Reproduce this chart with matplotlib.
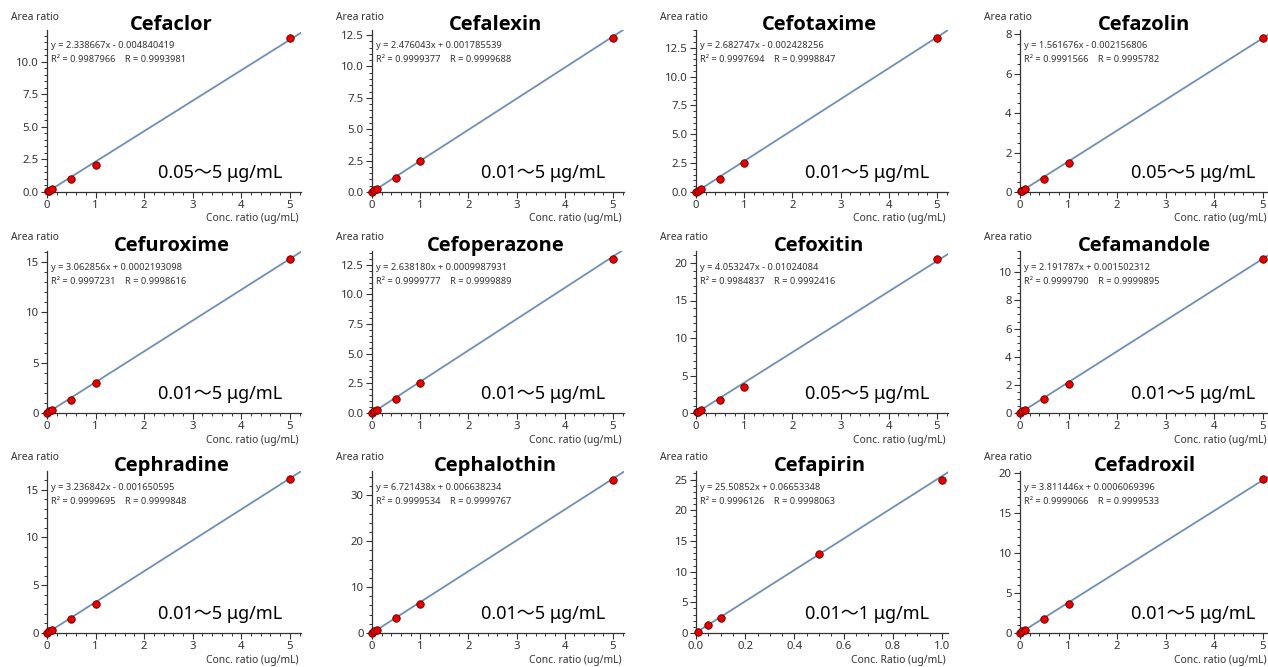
import matplotlib
matplotlib.use("Agg")
import matplotlib.pyplot as plt
from matplotlib.ticker import MultipleLocator, AutoMinorLocator, FormatStrFormatter

W, H = 1268, 667

names = ["Cefaclor", "Cefalexin", "Cefotaxime", "Cefazolin",
         "Cefuroxime", "Cefoperazone", "Cefoxitin", "Cefamandole",
         "Cephradine", "Cephalothin", "Cefapirin", "Cefadroxil"]
slopes = [2.338667, 2.476043, 2.682747, 1.561676,
          3.062856, 2.638180, 4.053247, 2.191787,
          3.236842, 6.721438, 25.50852, 3.811446]
intercepts = [-0.004840419, 0.001785539, -0.002428256, -0.002156806,
              0.0002193098, 0.0009987931, -0.01024084, 0.001502312,
              -0.001650595, 0.006638234, 0.06653348, 0.0006069396]
eq_labels = ["y = 2.338667x - 0.004840419", "y = 2.476043x + 0.001785539",
             "y = 2.682747x - 0.002428256", "y = 1.561676x - 0.002156806",
             "y = 3.062856x + 0.0002193098", "y = 2.638180x + 0.0009987931",
             "y = 4.053247x - 0.01024084", "y = 2.191787x + 0.001502312",
             "y = 3.236842x - 0.001650595", "y = 6.721438x + 0.006638234",
             "y = 25.50852x + 0.06653348", "y = 3.811446x + 0.0006069396"]
r2_labels = ["0.9987966", "0.9999377", "0.9997694", "0.9991566",
             "0.9997231", "0.9999777", "0.9984837", "0.9999790",
             "0.9999695", "0.9999534", "0.9996126", "0.9999066"]
r_labels = ["0.9993981", "0.9999688", "0.9998847", "0.9995782",
            "0.9998616", "0.9999889", "0.9992416", "0.9999895",
            "0.9999848", "0.9999767", "0.9998063", "0.9999533"]
ranges = ["0.05〜5 μg/mL", "0.01〜5 μg/mL", "0.01〜5 μg/mL", "0.05〜5 μg/mL",
          "0.01〜5 μg/mL", "0.01〜5 μg/mL", "0.05〜5 μg/mL", "0.01〜5 μg/mL",
          "0.01〜5 μg/mL", "0.01〜5 μg/mL", "0.01〜1 μg/mL", "0.01〜5 μg/mL"]

conc_01 = [0.01, 0.05, 0.1, 0.5, 1, 5]
conc_05 = [0.02, 0.05, 0.1, 0.5, 1, 5]
conc_pir = [0.01, 0.05, 0.1, 0.5, 1.0]
concs = [conc_05, conc_01, conc_01, conc_05,
         conc_01, conc_01, conc_05, conc_01,
         conc_01, conc_01, conc_pir, conc_01]
areas = [
    [0.04, 0.11, 0.22, 1.03, 2.10, 11.85],
    [0.03, 0.12, 0.25, 1.12, 2.45, 12.29],
    [0.03, 0.13, 0.27, 1.16, 2.50, 13.37],
    [0.03, 0.07, 0.15, 0.68, 1.49, 7.83],
    [0.03, 0.15, 0.31, 1.33, 2.94, 15.34],
    [0.03, 0.13, 0.27, 1.19, 2.49, 13.01],
    [0.07, 0.19, 0.39, 1.70, 3.53, 20.55],
    [0.02, 0.11, 0.22, 1.02, 2.04, 10.97],
    [0.03, 0.16, 0.32, 1.47, 3.05, 16.13],
    [0.07, 0.34, 0.68, 3.20, 6.40, 33.42],
    [0.18, 1.30, 2.50, 12.80, 25.00],
    [0.04, 0.19, 0.38, 1.75, 3.66, 19.16],
]
ymax = [12.44, 12.9, 14.04, 8.22, 16.1, 13.66, 21.6, 11.51, 16.96, 35.3, 26.4, 20.2]
ymajor = [2.5, 2.5, 2.5, 2, 5, 2.5, 5, 2, 5, 10, 5, 5]
yminor_n = [5, 5, 5, 4, 5, 5, 5, 4, 5, 5, 5, 5]
xlabels = ["Conc. ratio (ug/mL)"] * 10 + ["Conc. Ratio (ug/mL)", "Conc. ratio (ug/mL)"]

col_left = [47, 372, 696, 1020]
col_width = [254, 252, 252, 254]
row_top = [30, 251, 471]
row_bottom = [192, 413, 633]

plt.rcParams['font.family'] = ['Noto Sans', 'Noto Sans CJK JP', 'DejaVu Sans']

fig = plt.figure(figsize=(W / 100, H / 100), dpi=100)
line_color = "#6f8fb3"
tick_color = "#333333"

for i, name in enumerate(names):
    r, c = divmod(i, 4)
    l, w = col_left[c], col_width[c]
    t, b = row_top[r], row_bottom[r]
    ax = fig.add_axes([l / W, 1 - b / H, w / W, (b - t) / H])
    is_pir = (name == "Cefapirin")
    xmax = 1.024 if is_pir else 5.23
    ax.set_xlim(0, xmax)
    ax.set_ylim(0, ymax[i])
    for s in ("top", "right"):
        ax.spines[s].set_visible(False)
    for s in ("left", "bottom"):
        ax.spines[s].set_color(tick_color)
        ax.spines[s].set_linewidth(0.9)
    # fit line
    xs = [0, xmax]
    ys = [slopes[i] * x + intercepts[i] for x in xs]
    ax.plot(xs, ys, color=line_color, lw=1.3, zorder=2)
    ax.plot(concs[i], areas[i], 'o', color="#e80000", mec="#5a0000", mew=0.6,
            ms=5.4, zorder=3, clip_on=False)
    # ticks
    if is_pir:
        ax.xaxis.set_major_locator(MultipleLocator(0.2))
        ax.xaxis.set_minor_locator(MultipleLocator(0.05))
        ax.xaxis.set_major_formatter(FormatStrFormatter('%.1f'))
    else:
        ax.xaxis.set_major_locator(MultipleLocator(1))
        ax.xaxis.set_minor_locator(MultipleLocator(0.2))
    ax.yaxis.set_major_locator(MultipleLocator(ymajor[i]))
    ax.yaxis.set_minor_locator(AutoMinorLocator(yminor_n[i]))
    if ymajor[i] == 2.5:
        ax.yaxis.set_major_formatter(FormatStrFormatter('%.1f'))
    else:
        ax.yaxis.set_major_formatter(FormatStrFormatter('%d'))
    ax.tick_params(which='major', direction='out', length=4, width=0.8,
                   color=tick_color, labelcolor=tick_color, labelsize=8.2, pad=2)
    ax.tick_params(which='minor', direction='out', length=2.2, width=0.7,
                   color=tick_color)
    # texts
    fig.text((l - 36) / W, 1 - (t - 13) / H, "Area ratio", fontsize=7.4,
             color=tick_color, ha='left', va='center')
    ax.text(0.49, 1.03, name, transform=ax.transAxes, fontsize=14.5,
            fontweight='bold', family=['Open Sans', 'DejaVu Sans'],
            ha='center', va='center', color='black')
    fig.text((l + 4) / W, 1 - (t + 16) / H, eq_labels[i], fontsize=6.7,
             color=tick_color, ha='left', va='center')
    fig.text((l + 4) / W, 1 - (t + 30) / H,
             "R² = " + r2_labels[i] + "    R = " + r_labels[i],
             fontsize=6.7, color=tick_color, ha='left', va='center')
    ax.text(0.925, 0.115, ranges[i], transform=ax.transAxes, fontsize=13,
            ha='right', va='center', color='black')
    fig.text(min(l + w - 2, W - 1) / W, 1 - (b + 27) / H, xlabels[i],
             fontsize=7.4, color=tick_color, ha='right', va='center')

fig.savefig("out.png", dpi=100)
